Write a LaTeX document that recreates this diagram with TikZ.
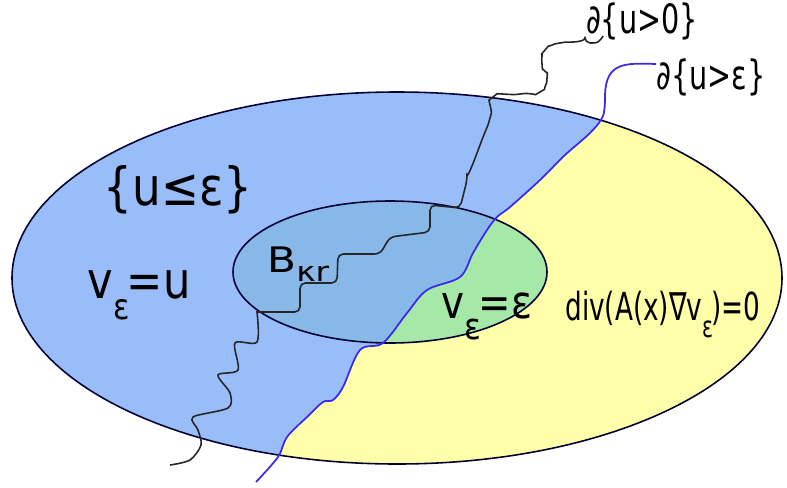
\documentclass[tikz,border=0pt]{standalone}
\usepackage{fontspec}
\setmainfont{DejaVu Sans}
\usetikzlibrary{positioning}

\definecolor{regionblue}{RGB}{153,189,249}
\definecolor{ballblue}{RGB}{135,184,232}
\definecolor{regionyellow}{RGB}{255,255,170}
\definecolor{ballgreen}{RGB}{166,232,168}
\definecolor{levelblue}{RGB}{62,40,236}

% narrow text and a low subscript
\newcommand\narrow[2]{\scalebox{#1}[1]{#2}}
\newcommand\lowsub[3]{\raisebox{-#2em}{\scalebox{#1}{#3}}\kern-0.06em}

% level line {u = eps}
\newcommand\epsline{plot[smooth,tension=0.55] coordinates {(256,482) (278,457) (287,437) (307,417) (323,402) (333,400) (343,387) (360,350) (383,343) (407,313) (427,290) (460,277) (473,253) (487,230) (497,217) (510,207) (540,180) (565,155) (590,133) (603,116) (605,95)}}

\begin{document}
\begin{tikzpicture}[x=0.02cm,y=-0.02cm,
    rim/.style={draw=black!80!blue,line width=0.9pt},
    zeroline/.style={draw=black!85,line width=0.9pt},
    levelline/.style={draw=levelblue,line width=1pt},
    lbl/.style={inner sep=0pt,anchor=base}]
    \useasboundingbox (0,0) rectangle (787,487);

    \coordinate (o) at (397,278);
    \coordinate (c) at (390,272);

    % outer domain
    \fill[regionblue] (o) ellipse [x radius=385,y radius=186];
    \begin{scope}
        \clip (o) ellipse [x radius=385,y radius=186];
        \fill[regionyellow] \epsline -- (605,40) -- (820,40) -- (820,500) -- cycle;
    \end{scope}

    % the ball
    \fill[ballblue] (c) ellipse [x radius=157,y radius=71];
    \begin{scope}
        \clip (c) ellipse [x radius=157,y radius=71];
        \fill[ballgreen] \epsline -- (605,40) -- (820,40) -- (820,500) -- cycle;
    \end{scope}
    \draw[rim] (o) ellipse [x radius=385,y radius=186];
    \draw[rim] (c) ellipse [x radius=157,y radius=71];

    % labels
    \node[lbl,font=\fontsize{30}{32}\selectfont] (lowset) at (178,205) {\narrow{0.86}{\{u≤ε\}}};
    \node[lbl,font=\fontsize{29}{31}\selectfont] (vequ) at (139,298) {\narrow{0.85}{v\lowsub{0.7}{0.42}{ε}=u}};
    \node[lbl,font=\fontsize{20}{22}\selectfont] (ball) at (297,272) {\narrow{1.2}{B\lowsub{0.78}{0.28}{κr}}};
    \node[lbl,font=\fontsize{26}{28}\selectfont] (veqeps) at (487,318) {\narrow{0.85}{v\lowsub{0.8}{0.46}{ε}=ε}};
    \node[lbl,font=\fontsize{22}{24}\selectfont] (eqn) at (663,320) {\narrow{0.68}{div(A(x)∇v\lowsub{0.77}{0.44}{ε})=0}};
    \node[lbl,font=\fontsize{23}{25}\selectfont] (lblzero) at (642,33) {\narrow{0.71}{∂\{u>0\}}};
    \node[lbl,font=\fontsize{23}{25}\selectfont] (lbleps) at (711,89) {\narrow{0.71}{∂\{u>ε\}}};

    % free boundaries
    \draw[zeroline] plot[smooth,tension=0.5] coordinates {(170,465) (190,460) (201,445) (198,430) (193,417) (228,408) (230,393) (218,375) (238,370) (235,343) (257,342) (257,312)}
        [rounded corners=3] -- (300,312) -- (300,283) -- (337,283) -- (338,254) -- (380,254) -- (390,237) -- (430,232) -- (430,205) -- (460,208)
        -- plot[smooth,tension=0.5] coordinates {(467,180) (480,145) (490,118) (493,97) (520,94) (540,92) (547,78) (542,64) (545,50) (560,43) (585,43)}
        .. controls (598,43) .. ([xshift=0.35cm,yshift=-0.06cm]lblzero.base west);
    \draw[levelline] \epsline .. controls (606,62) and (625,63) .. ([yshift=0.5cm]lbleps.base west);
\end{tikzpicture}
\end{document}
